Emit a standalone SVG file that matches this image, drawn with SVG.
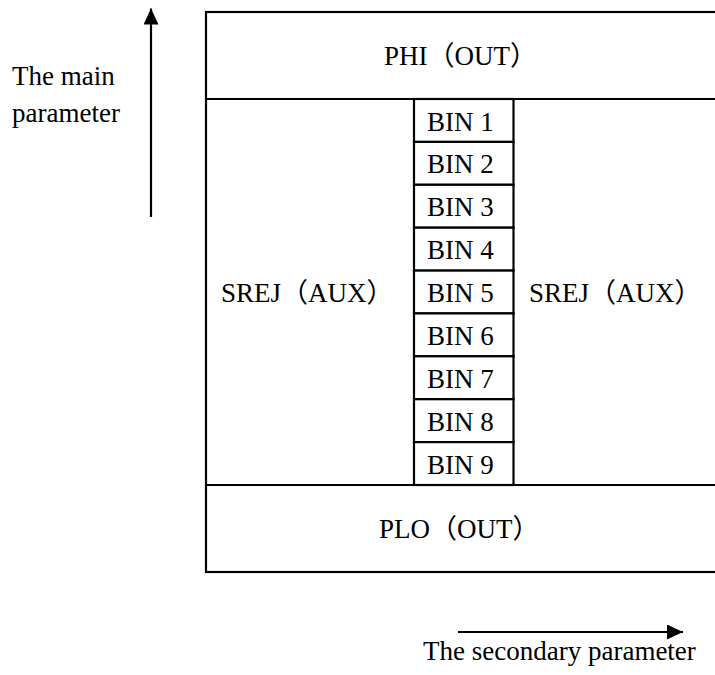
<svg xmlns="http://www.w3.org/2000/svg" width="715" height="675" viewBox="0 0 715 675">
<style>
text{font-family:"Liberation Serif","Noto Sans CJK SC",serif;font-size:27px;fill:#000}
.ln{stroke:#000;stroke-width:2.2;fill:none}
.bin rect{fill:#fff;stroke:#000;stroke-width:2.2}
</style>
<defs>
<marker id="ah" viewBox="0 0 16 15" refX="16" refY="7.5" markerWidth="16" markerHeight="15" markerUnits="userSpaceOnUse" orient="auto">
<path d="M0,0 L16,7.5 L0,15 Z" fill="#000"/>
</marker>
</defs>
<rect width="715" height="675" fill="#fff"/>
<g id="frame">
<rect class="ln" x="206" y="12" width="512" height="560"/>
</g>
<g id="phi">
<line class="ln" x1="206" y1="99" x2="718" y2="99"/>
<text x="384" y="65">PHI（OUT）</text>
</g>
<g id="srej-left">
<text x="221" y="302">SREJ（AUX）</text>
</g>
<g id="bins" class="bin">
<g id="bin1"><rect x="414" y="99" width="99.5" height="42.9"/><text x="427" y="130.5">BIN 1</text></g>
<g id="bin2"><rect x="414" y="141.9" width="99.5" height="42.9"/><text x="427" y="173.4">BIN 2</text></g>
<g id="bin3"><rect x="414" y="184.8" width="99.5" height="42.9"/><text x="427" y="216.3">BIN 3</text></g>
<g id="bin4"><rect x="414" y="227.7" width="99.5" height="42.9"/><text x="427" y="259.2">BIN 4</text></g>
<g id="bin5"><rect x="414" y="270.6" width="99.5" height="42.9"/><text x="427" y="302">BIN 5</text></g>
<g id="bin6"><rect x="414" y="313.4" width="99.5" height="42.9"/><text x="427" y="344.9">BIN 6</text></g>
<g id="bin7"><rect x="414" y="356.3" width="99.5" height="42.9"/><text x="427" y="387.8">BIN 7</text></g>
<g id="bin8"><rect x="414" y="399.2" width="99.5" height="42.9"/><text x="427" y="430.7">BIN 8</text></g>
<g id="bin9"><rect x="414" y="442.1" width="99.5" height="42.9"/><text x="427" y="473.6">BIN 9</text></g>
</g>
<g id="srej-right">
<text x="529" y="302">SREJ（AUX）</text>
</g>
<g id="plo">
<line class="ln" x1="206" y1="485" x2="718" y2="485"/>
<text x="379" y="538">PLO（OUT）</text>
</g>
<g id="connectors">
<line class="ln" x1="151" y1="217" x2="151" y2="8.5" marker-end="url(#ah)"/>
<line class="ln" x1="458" y1="632" x2="683" y2="632" marker-end="url(#ah)"/>
</g>
<g id="labels">
<text x="12" y="85">The main</text>
<text x="12" y="122">parameter</text>
<text x="423" y="660">The secondary parameter</text>
</g>
</svg>
